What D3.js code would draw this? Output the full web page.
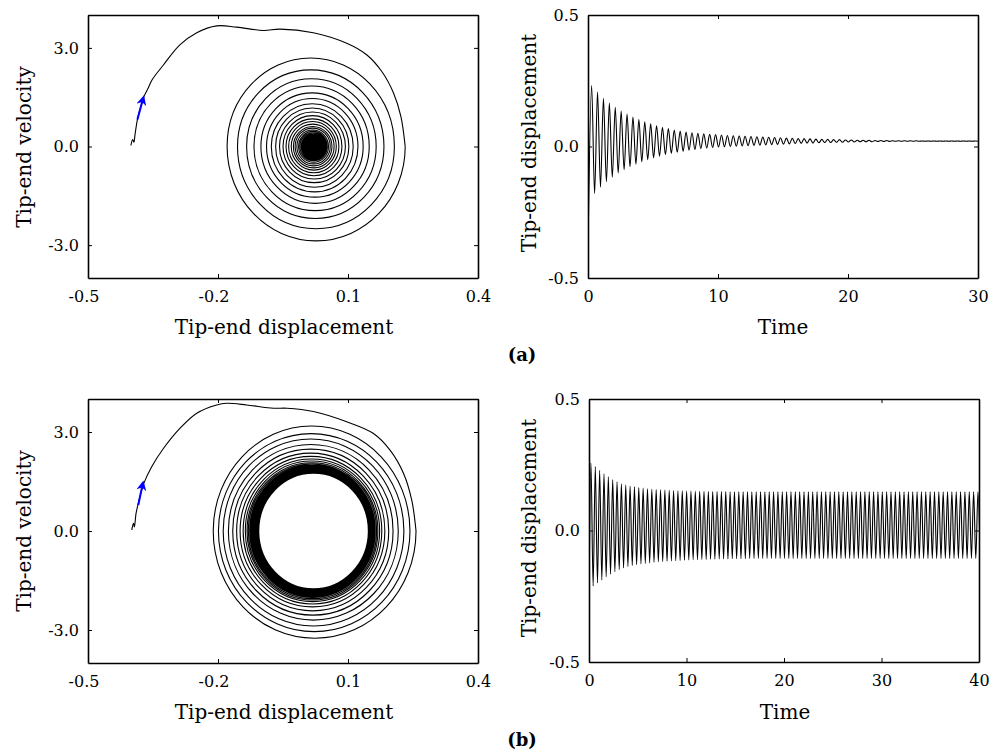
<!DOCTYPE html>
<html><head><meta charset="utf-8">
<script src="https://cdn.jsdelivr.net/npm/d3@7"></script>
<style>
body{margin:0;background:#fff;}
svg{display:block;}
</style></head><body>
<svg id="chart" width="1003" height="752"></svg>
<script>
// ---------- data ----------
// (a) decaying response
const periodA = 0.454, firstPeakA = 0.28, startA = -0.39;
const peaksA = [0.232,0.207,0.183,0.165,0.149,0.135,0.123,0.112,0.102,0.094,
 0.086,0.079,0.073,0.068,0.063,0.059,0.055,0.052,0.050,0.048,
 0.046,0.045,0.044,0.042,0.041,0.040,0.039,0.038,0.037,0.036,
 0.035,0.034,0.033,0.032,0.031,0.030,0.030,0.029,0.028,0.027,
 0.027,0.026,0.026,0.025,0.025,0.024,0.024,0.024,0.023,0.023,
 0.023,0.022,0.022,0.022,0.022,0.022,0.021,0.021,0.021,0.021,
 0.021,0.021,0.021,0.021,0.021,0.021];
const troughsA = [-0.179,-0.155,-0.134,-0.117,-0.101,-0.088,-0.077,-0.067,-0.058,-0.050,
 -0.043,-0.037,-0.031,-0.026,-0.022,-0.018,-0.014,-0.011,-0.008,-0.006,
 -0.004,-0.002,-0.001,0.000,0.001,0.002,0.003,0.004,0.005,0.006,
 0.007,0.008,0.009,0.010,0.011,0.012,0.013,0.013,0.014,0.015,
 0.015,0.016,0.016,0.017,0.017,0.018,0.018,0.018,0.019,0.019,
 0.019,0.020,0.020,0.020,0.020,0.020,0.020,0.020,0.020,0.020,
 0.020,0.020,0.020,0.020,0.020,0.020];
const vBotA = [-2.87,-2.50,-2.19,-1.95,-1.73,-1.54,-1.38,-1.24,-1.10,-0.99,
 -0.89,-0.80,-0.72,-0.65,-0.59,-0.53,-0.48,-0.43,-0.40,-0.37,
 -0.35,-0.32,-0.31,-0.29,-0.28,-0.26,-0.25,-0.23,-0.22,-0.21,
 -0.19,-0.18,-0.17,-0.15,-0.14,-0.12,-0.12,-0.11,-0.10,-0.08,
 -0.08,-0.07,-0.07,-0.06,-0.06,-0.04,-0.04,-0.04,-0.03,-0.03,
 -0.03,-0.02,-0.02,-0.02,-0.02,-0.02,-0.01,-0.01,-0.01,-0.01,
 -0.01,-0.01,-0.01,-0.01,-0.01,-0.01];
const vTopA = [2.69,2.33,2.06,1.84,1.63,1.46,1.30,1.17,1.05,0.94,
 0.84,0.76,0.68,0.61,0.56,0.50,0.46,0.42,0.39,0.36,
 0.34,0.32,0.30,0.28,0.27,0.26,0.24,0.23,0.21,0.20,
 0.19,0.17,0.16,0.14,0.13,0.12,0.11,0.10,0.09,0.08,
 0.08,0.07,0.06,0.06,0.05,0.04,0.04,0.03,0.03,0.03,
 0.02,0.02,0.02,0.02,0.02,0.01,0.01,0.01,0.01,0.01,
 0.01,0.01,0.01,0.01,0.01,0.01];
const transientA = [[-0.401,0.03],[-0.397,0.21],[-0.394,0.13],[-0.392,0.31],[-0.386,0.82],
 [-0.378,1.22],[-0.371,1.52],[-0.361,1.78],[-0.352,2.03],[-0.326,2.48],[-0.288,3.09],
 [-0.249,3.46],[-0.203,3.67],[-0.157,3.63],[-0.095,3.53],[-0.057,3.57],[0.020,3.46],
 [0.097,3.14],[0.143,2.79],[0.178,2.28],[0.205,1.63],[0.222,0.92]];
const arrowA = [[-0.386,0.82],[-0.372,1.50]];

// (b) response settling on a limit cycle
const periodB = 0.446, firstPeakB = 0.2, startB = -0.28;
const peaksB = [0.257,0.243,0.229,0.216,0.204,0.194,0.185,0.178,0.173,0.169,
 0.166,0.163,0.161,0.159,0.157,0.156,0.155,0.154,0.153,0.152,
 0.151,0.151,0.150,0.150,0.149,0.149,0.149,0.148,0.148,0.148,
 0.148,0.148,0.147,0.147,0.147,0.147,0.147,0.147,0.147,0.147,
 0.147,0.147,0.147,0.147,0.147,0.147,0.147,0.147,0.147,0.147,
 0.147,0.147,0.147,0.147,0.147,0.147,0.147,0.147,0.147,0.147,
 0.147,0.147,0.147,0.147,0.147,0.147,0.147,0.147,0.147,0.147,
 0.147,0.147,0.147,0.147,0.147,0.147,0.147,0.147,0.147,0.147,
 0.147,0.147,0.147,0.147,0.147,0.147,0.147,0.147,0.147,0.147];
const troughsB = [-0.211,-0.199,-0.188,-0.176,-0.166,-0.157,-0.149,-0.142,-0.137,-0.133,
 -0.130,-0.127,-0.125,-0.123,-0.121,-0.119,-0.118,-0.117,-0.116,-0.115,
 -0.114,-0.113,-0.112,-0.111,-0.111,-0.110,-0.110,-0.109,-0.109,-0.108,
 -0.108,-0.108,-0.107,-0.107,-0.107,-0.107,-0.106,-0.106,-0.106,-0.106,
 -0.106,-0.106,-0.106,-0.106,-0.106,-0.106,-0.106,-0.106,-0.106,-0.106,
 -0.106,-0.106,-0.106,-0.106,-0.106,-0.106,-0.106,-0.106,-0.106,-0.106,
 -0.106,-0.106,-0.106,-0.106,-0.106,-0.106,-0.106,-0.106,-0.106,-0.106,
 -0.106,-0.106,-0.106,-0.106,-0.106,-0.106,-0.106,-0.106,-0.106,-0.106,
 -0.106,-0.106,-0.106,-0.106,-0.106,-0.106,-0.106,-0.106,-0.106,-0.106];
const vBotB = [-3.25,-3.05,-2.88,-2.70,-2.55,-2.42,-2.30,-2.21,-2.14,-2.09,
 -2.05,-2.01,-1.98,-1.95,-1.93,-1.91,-1.89,-1.88,-1.87,-1.86,
 -1.85,-1.84,-1.83,-1.82,-1.81,-1.80,-1.80,-1.79,-1.79,-1.78,
 -1.78,-1.78,-1.77,-1.77,-1.77,-1.76,-1.76,-1.76,-1.75,-1.75,
 -1.75,-1.75,-1.75,-1.75,-1.75,-1.75,-1.75,-1.75,-1.75,-1.75,
 -1.75,-1.75,-1.75,-1.75,-1.75,-1.75,-1.75,-1.75,-1.75,-1.75,
 -1.75,-1.75,-1.75,-1.75,-1.75,-1.75,-1.75,-1.75,-1.75,-1.75,
 -1.75,-1.75,-1.75,-1.75,-1.75,-1.75,-1.75,-1.75,-1.75,-1.75,
 -1.75,-1.75,-1.75,-1.75,-1.75,-1.75,-1.75,-1.75,-1.75,-1.75];
const vTopB = [3.18,2.95,2.79,2.62,2.48,2.36,2.26,2.18,2.12,2.07,
 2.03,2.00,1.97,1.94,1.92,1.90,1.89,1.88,1.87,1.86,
 1.85,1.84,1.83,1.82,1.81,1.80,1.80,1.79,1.79,1.78,
 1.78,1.77,1.77,1.77,1.76,1.76,1.76,1.76,1.75,1.75,
 1.75,1.75,1.75,1.75,1.75,1.75,1.75,1.75,1.75,1.75,
 1.75,1.75,1.75,1.75,1.75,1.75,1.75,1.75,1.75,1.75,
 1.75,1.75,1.75,1.75,1.75,1.75,1.75,1.75,1.75,1.75,
 1.75,1.75,1.75,1.75,1.75,1.75,1.75,1.75,1.75,1.75,
 1.75,1.75,1.75,1.75,1.75,1.75,1.75,1.75,1.75,1.75];
const transientB = [[-0.399,0.03],[-0.395,0.23],[-0.393,0.12],[-0.389,0.54],[-0.382,0.94],
 [-0.371,1.45],[-0.353,1.95],[-0.326,2.50],[-0.288,3.11],[-0.249,3.57],[-0.203,3.82],
 [-0.180,3.87],[-0.134,3.82],[-0.072,3.72],[-0.041,3.72],[0.020,3.62],[0.097,3.31],
 [0.158,2.96],[0.197,2.45],[0.228,1.75],[0.247,0.94]];
const arrowB = [[-0.384,0.79],[-0.373,1.47]];

// axes / labels
const phaseXTicks = [-0.5,-0.2,0.1,0.4];
const phaseYTicks = [-3,0,3];
const timeYTicks = [-0.5,0,0.5];
const timeXTicksA = [0,10,20,30];
const timeXTicksB = [0,10,20,30,40];
const xTitlePhase = "Tip-end displacement", yTitlePhase = "Tip-end velocity";
const xTitleTime = "Time", yTitleTime = "Tip-end displacement";
const panelLabels = ["(a)","(b)"];

// ---------- drawing ----------
const svg = d3.select("#chart");
const FONT = "DejaVu Serif";
let clipN = 0;

function panel(o) {
  const x = d3.scaleLinear().domain(o.xDomain).range([o.left, o.left + o.width]);
  const y = d3.scaleLinear().domain(o.yDomain).range([o.top + o.height, o.top]);
  const id = "clip" + (clipN++);
  svg.append("clipPath").attr("id", id).append("rect")
    .attr("x", o.left).attr("y", o.top).attr("width", o.width).attr("height", o.height);
  const plot = svg.append("g").attr("clip-path", `url(#${id})`);
  const axes = svg.append("g");
  const bx = axes.append("g").attr("transform", `translate(0,${o.top + o.height})`)
    .call(d3.axisBottom(x).tickValues(o.xTicks).tickFormat(o.xFmt).tickSizeInner(-4).tickSizeOuter(0).tickPadding(13));
  bx.selectAll("text").attr("dx", d => d < 0 ? -4.5 : 0);
  axes.append("g").attr("transform", `translate(0,${o.top})`)
    .call(d3.axisTop(x).tickValues(o.xTicks).tickFormat("").tickSizeInner(-4).tickSizeOuter(0));
  axes.append("g").attr("transform", `translate(${o.left},0)`)
    .call(d3.axisLeft(y).tickValues(o.yTicks).tickFormat(o.yFmt).tickSizeInner(-4).tickSizeOuter(0).tickPadding(9));
  axes.append("g").attr("transform", `translate(${o.left + o.width},0)`)
    .call(d3.axisRight(y).tickValues(o.yTicks).tickFormat("").tickSizeInner(-4).tickSizeOuter(0));
  axes.selectAll(".domain").attr("stroke", "#000").attr("stroke-width", 1.6);
  axes.selectAll(".tick line").attr("stroke", "#000").attr("stroke-width", 1);
  axes.selectAll("text").attr("font-family", FONT).attr("font-size", 16).attr("fill", "#000");
  svg.append("text").attr("x", o.xTitlePos[0]).attr("y", o.xTitlePos[1])
    .attr("text-anchor", "middle").attr("font-family", FONT).attr("font-size", 20).text(o.xTitle);
  svg.append("text").attr("transform", `translate(${o.yTitlePos[0]},${o.yTitlePos[1]}) rotate(-90)`)
    .attr("text-anchor", "middle").attr("font-family", FONT).attr("font-size", 20).text(o.yTitle);
  return {x, y, plot};
}

const fmt1 = d => d.toFixed(1);
const fmt0 = d => String(d);

// quarter-ellipse arcs between successive extreme points
// (vertical tangent at displacement extremes, horizontal tangent at velocity extremes)
function ringPath(px) {
  const k = 0.5523;
  const p = d3.path();
  p.moveTo(px[0][0], px[0][1]);
  for (let i = 0; i < px.length - 1; i++) {
    const [x0, y0] = px[i], [x1, y1] = px[i + 1];
    if (i % 2 === 0) p.bezierCurveTo(x0, y0 + k * (y1 - y0), x1 - k * (x1 - x0), y1, x1, y1);
    else p.bezierCurveTo(x0 + k * (x1 - x0), y0, x1, y1 - k * (y1 - y0), x1, y1);
  }
  return p.toString();
}

function phasePanel(o, peaks, troughs, vBot, vTop, transient, arrow) {
  const p = panel(Object.assign({xDomain: [-0.5, 0.4], yDomain: [-4, 4], xTicks: phaseXTicks, yTicks: phaseYTicks,
    xFmt: fmt1, yFmt: fmt1, xTitle: xTitlePhase, yTitle: yTitlePhase}, o));
  // right extent -> bottom -> left extent -> top -> next right extent ...
  const ring = [[peaks[0], 0]];
  for (let i = 0; i < peaks.length; i++) {
    ring.push([(peaks[i] + troughs[i]) / 2, vBot[i]]);
    ring.push([troughs[i], 0]);
    if (i + 1 < peaks.length) {
      ring.push([(troughs[i] + peaks[i + 1]) / 2, vTop[i]]);
      ring.push([peaks[i + 1], 0]);
    }
  }
  const px = ring.map(d => [p.x(d[0]), p.y(d[1])]);
  p.plot.append("path").attr("d", ringPath(px)).attr("fill", "none").attr("stroke", "#000").attr("stroke-width", 1.1);
  const lineC = d3.line().x(d => p.x(d[0])).y(d => p.y(d[1])).curve(d3.curveCatmullRom.alpha(0.5));
  p.plot.append("path").attr("d", lineC(transient.concat([[peaks[0], 0]])))
    .attr("fill", "none").attr("stroke", "#000").attr("stroke-width", 1.1);
  p.plot.append("path").attr("d", d3.line().x(d => p.x(d[0])).y(d => p.y(d[1]))(arrow))
    .attr("fill", "none").attr("stroke", "#0000ff").attr("stroke-width", 2).attr("marker-end", "url(#arrowhead)");
}

function timePanel(o, start, firstPeak, period, peaks, troughs) {
  const p = panel(Object.assign({yDomain: [-0.5, 0.5], yTicks: timeYTicks, xFmt: fmt0, yFmt: fmt1,
    xTitle: xTitleTime, yTitle: yTitleTime}, o));
  const pts = [[0, start]];
  peaks.forEach((v, i) => {
    const t = firstPeak + i * period;
    pts.push([t, v]);
    pts.push([t + period / 2, troughs[i]]);
  });
  const line = d3.line().x(d => p.x(d[0])).y(d => p.y(d[1])).curve(d3.curveMonotoneX);
  p.plot.append("path").attr("d", line(pts)).attr("fill", "none").attr("stroke", "#000").attr("stroke-width", 1.1);
}

// arrowhead marker
svg.append("defs").append("marker").attr("id", "arrowhead")
  .attr("viewBox", "0 0 10 10").attr("refX", 8).attr("refY", 5)
  .attr("markerUnits", "userSpaceOnUse").attr("markerWidth", 11).attr("markerHeight", 10)
  .attr("orient", "auto")
  .append("path").attr("d", "M0,0 L10,5 L0,10 L3,5 Z").attr("fill", "#0000ff");

phasePanel({left: 88, top: 15, width: 390, height: 263, xTitlePos: [284, 334], yTitlePos: [31, 147]},
  peaksA, troughsA, vBotA, vTopA, transientA, arrowA);
timePanel({left: 588, top: 15, width: 390, height: 263, xDomain: [0, 30], xTicks: timeXTicksA,
  xTitlePos: [783, 334], yTitlePos: [536, 143]}, startA, firstPeakA, periodA, peaksA, troughsA);
phasePanel({left: 88, top: 399, width: 390, height: 264, xTitlePos: [284, 719], yTitlePos: [31, 531]},
  peaksB, troughsB, vBotB, vTopB, transientB, arrowB);
timePanel({left: 589, top: 399, width: 390, height: 263, xDomain: [0, 40], xTicks: timeXTicksB,
  xTitlePos: [785, 719], yTitlePos: [536, 528]}, startB, firstPeakB, periodB, peaksB, troughsB);

svg.append("text").attr("x", 522).attr("y", 361).attr("text-anchor", "middle")
  .attr("font-family", FONT).attr("font-weight", "bold").attr("font-size", 18).text(panelLabels[0]);
svg.append("text").attr("x", 522).attr("y", 746).attr("text-anchor", "middle")
  .attr("font-family", FONT).attr("font-weight", "bold").attr("font-size", 18).text(panelLabels[1]);
</script></body></html>
